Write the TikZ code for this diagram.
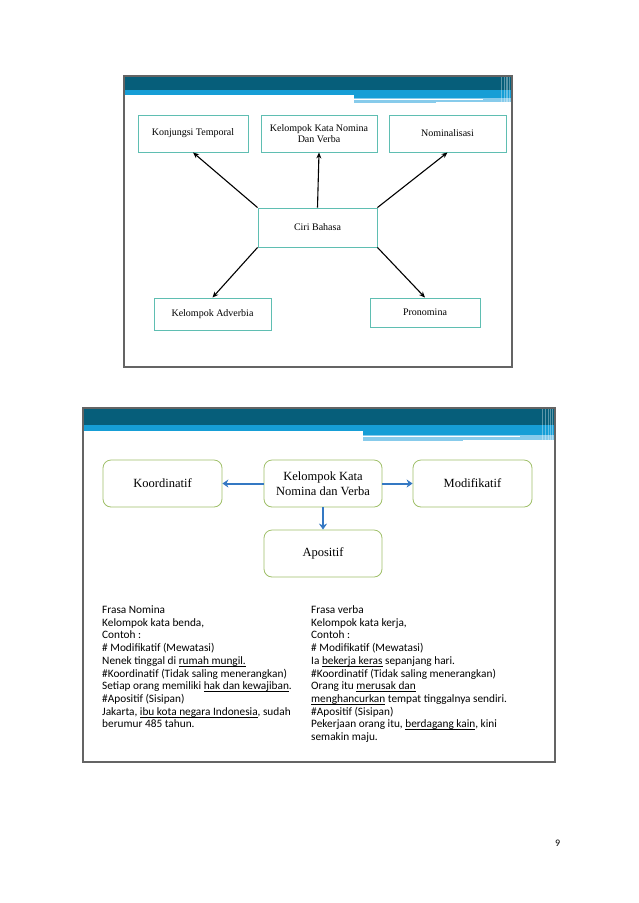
\documentclass[tikz,border=0pt]{standalone}
\usepackage{fontspec}
\setmainfont{Liberation Serif}
\newfontfamily\calfont{Carlito}
\usetikzlibrary{arrows.meta}
\newcommand\ulin[1]{\setbox0\hbox{#1}\rlap{\vrule height -1.5pt depth 2.1pt width \wd0}\box0\relax}
\definecolor{darkteal}{RGB}{6,94,122}
\definecolor{midblue}{RGB}{22,158,214}
\definecolor{lightblue}{RGB}{135,203,235}
\definecolor{boxteal}{RGB}{95,190,178}
\definecolor{boxgreen}{RGB}{160,192,105}
\definecolor{arrowblue}{RGB}{52,120,195}
\definecolor{framegray}{RGB}{100,100,100}
\newcommand\slidehead{%
  \fill[darkteal] (0,0) rectangle (472,16.5);
  \fill[midblue] (0,16.5) rectangle (472,23);
  \fill[midblue] (280,23) rectangle (472,27);
  \fill[lightblue] (280,27) rectangle (472,31.5);
  \fill[lightblue] (280,31.5) rectangle (380,33);
  \fill[white] (280,27.6) rectangle (437,28.6);
  \foreach \vx in {459,462,464.5,466.5,468.5,470.5}
    \fill[white,opacity=0.35] (\vx,0) rectangle ++(1,33);
}
\tikzset{
  frame/.style={draw=framegray, line width=1.3pt},
  boxa/.style={draw=boxteal, line width=0.9pt, rectangle, inner sep=2pt,
    align=center, font=\fontsize{10}{11}\selectfont},
  boxb/.style={draw=boxgreen, line width=0.8pt, rectangle, rounded corners=8pt,
    inner sep=2pt, align=center, font=\fontsize{12.5}{15.5}\selectfont},
  arra/.style={line width=1.1pt, -{Stealth[length=6pt,width=5pt]}},
  arrb/.style={draw=arrowblue, line width=2pt, -{Stealth[length=6pt,width=8pt]}},
  txt/.style={anchor=base west, inner sep=0pt, font=\calfont\fontsize{11.3}{12.7}\selectfont}
}
\begin{document}
\begin{tikzpicture}[x=1pt,y=-1pt]
\useasboundingbox[fill=white] (0,0) rectangle (638,903);

% ---------- slide 1 ----------
\begin{scope}[shift={(124,76)},scale=0.822]
  \slidehead
\end{scope}
\draw[frame] (124,76) rectangle (512,367);

\node[boxa, minimum width=110pt, minimum height=37pt] (konj) at (193,133.5) {Konjungsi Temporal};
\node[boxa, minimum width=116pt, minimum height=37pt] (kkn) at (319,133.5) {Kelompok Kata Nomina\\Dan Verba};
\node[boxa, minimum width=117pt, minimum height=37pt] (nom) at (447.5,133.5) {Nominalisasi};
\node[boxa, minimum width=119pt, minimum height=39pt] (ciri) at (317.5,227.5) {Ciri Bahasa};
\node[boxa, minimum width=117pt, minimum height=32pt] (adv) at (212.5,314) {Kelompok Adverbia};
\node[boxa, minimum width=110pt, minimum height=29pt] (pron) at (425,312.5) {Pronomina};

\draw[arra] (ciri.north west) -- (konj.south);
\draw[arra] (ciri.north) -- (kkn.south);
\draw[arra] (ciri.north east) -- (nom.south);
\draw[arra] (ciri.south west) -- (adv.north);
\draw[arra] (ciri.south east) -- (pron.north);

% ---------- slide 2 ----------
\begin{scope}[shift={(83,408)}]
  \slidehead
\end{scope}
\draw[frame] (83,408) rectangle (555,762);

\node[boxb, minimum width=119pt, minimum height=47pt] (koord) at (162.5,483.5) {Koordinatif};
\node[boxb, minimum width=118pt, minimum height=47pt] (kkn2) at (323,483.5) {Kelompok Kata\\Nomina dan Verba};
\node[boxb, minimum width=119pt, minimum height=47pt] (modif) at (472.5,483.5) {Modifikatif};
\node[boxb, minimum width=118pt, minimum height=47pt] (apos) at (323,553.5) {Apositif};

\draw[arrb] (kkn2.west) -- (koord.east);
\draw[arrb] (kkn2.east) -- (modif.west);
\draw[arrb] (kkn2.south) -- (apos.north);

% left column
\node[txt] (l1) at (102,613.5) {Frasa Nomina};
\node[txt] (l2) at (102,626.2) {Kelompok kata benda,};
\node[txt] (l3) at (102,638.9) {Contoh :};
\node[txt] (l4) at (102,651.6) {\# Modifikatif (Mewatasi)};
\node[txt] (l5) at (102,664.3) {Nenek tinggal di \ulin{rumah mungil.}};
\node[txt] (l6) at (102,677.0) {\#Koordinatif (Tidak saling menerangkan)};
\node[txt] (l7) at (102,689.7) {Setiap orang memiliki \ulin{hak dan kewajiban}.};
\node[txt] (l8) at (102,702.4) {\#Apositif (Sisipan)};
\node[txt] (l9) at (102,715.1) {Jakarta, \ulin{ibu kota negara Indonesia}, sudah};
\node[txt] (l10) at (102,727.8) {berumur 485 tahun.};

% right column
\node[txt] (r1) at (311,613.5) {Frasa verba};
\node[txt] (r2) at (311,626.2) {Kelompok kata kerja,};
\node[txt] (r3) at (311,638.9) {Contoh :};
\node[txt] (r4) at (311,651.6) {\# Modifikatif (Mewatasi)};
\node[txt] (r5) at (311,664.3) {Ia \ulin{bekerja keras} sepanjang hari.};
\node[txt] (r6) at (311,677.0) {\#Koordinatif (Tidak saling menerangkan)};
\node[txt] (r7) at (311,689.7) {Orang itu \ulin{merusak dan}};
\node[txt] (r8) at (311,702.4) {\ulin{menghancurkan} tempat tinggalnya sendiri.};
\node[txt] (r9) at (311,715.1) {\#Apositif (Sisipan)};
\node[txt] (r10) at (311,727.8) {Pekerjaan orang itu, \ulin{berdagang kain}, kini};
\node[txt] (r11) at (311,740.5) {semakin maju.};

% page number
\node[txt, font=\calfont\fontsize{10}{12}\selectfont] (pg) at (555,846) {9};
\end{tikzpicture}
\end{document}
